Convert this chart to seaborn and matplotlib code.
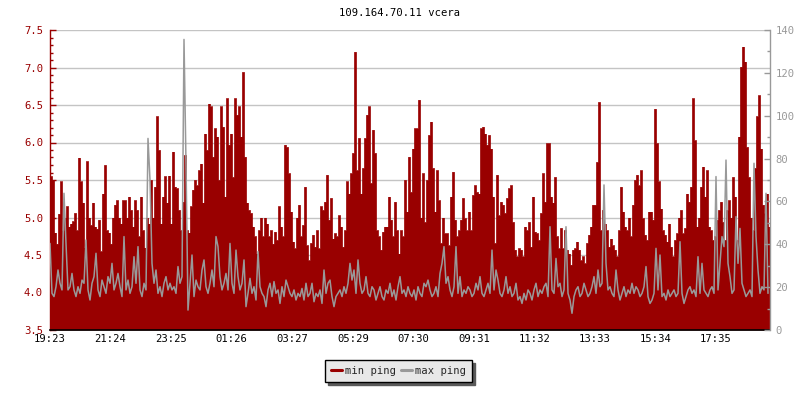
import numpy as np
import pandas as pd
import matplotlib
matplotlib.use("Agg")
import matplotlib.pyplot as plt
from matplotlib.lines import Line2D
from matplotlib.ticker import MultipleLocator, FormatStrFormatter
import seaborn as sns

# ---------------- data ----------------
title = "109.164.70.11 vcera"
start_time = "2024-01-01 19:23"
sample_minutes = 4
series_names = ["min ping", "max ping"]
tick_labels = ["19:23", "21:24", "23:25", "01:26", "03:27", "05:29",
               "07:30", "09:31", "11:32", "13:33", "15:34", "17:35"]

# min ping (left axis)
min_ping = [
    5.55, 5.50, 4.80, 4.65, 5.05, 5.48, 4.83, 5.00, 5.15, 4.88,
    4.92, 4.95, 5.06, 4.83, 5.80, 5.48, 5.20, 4.60, 5.75, 5.00,
    4.90, 5.20, 4.88, 4.85, 4.97, 4.55, 5.32, 5.70, 4.83, 4.80,
    4.65, 5.00, 5.17, 5.23, 5.00, 4.92, 5.23, 5.23, 5.00, 5.28,
    5.10, 4.88, 5.23, 5.10, 4.75, 5.28, 4.83, 4.60, 5.00, 4.92,
    5.50, 5.00, 5.41, 6.35, 5.90, 4.92, 5.28, 5.55, 5.20, 5.56,
    4.92, 5.88, 5.41, 5.39, 5.10, 4.83, 5.21, 5.83, 4.83, 4.80,
    5.15, 5.37, 5.50, 5.43, 5.63, 5.72, 5.20, 6.12, 5.90, 6.52,
    6.48, 5.81, 6.19, 6.08, 5.50, 6.48, 6.21, 5.28, 6.59, 5.97,
    6.12, 5.54, 6.59, 6.37, 6.48, 6.08, 6.94, 5.81, 5.20, 5.10,
    5.06, 4.88, 4.75, 4.52, 4.83, 5.00, 4.75, 5.00, 4.92, 4.75,
    4.83, 4.65, 4.81, 4.70, 5.15, 4.88, 4.75, 5.97, 5.94, 5.59,
    5.08, 4.68, 4.59, 5.00, 5.17, 4.75, 4.90, 5.41, 4.63, 4.43,
    4.66, 4.77, 4.61, 4.83, 4.59, 5.15, 5.10, 5.21, 5.57, 4.97,
    5.26, 4.72, 4.79, 4.75, 5.03, 4.88, 4.61, 4.83, 5.48, 5.32,
    5.59, 5.86, 7.21, 5.63, 6.06, 5.32, 5.66, 6.06, 6.37, 6.48,
    5.46, 6.17, 5.86, 4.83, 4.75, 4.57, 4.81, 4.88, 4.88, 5.28,
    4.97, 4.75, 5.21, 4.83, 4.52, 4.83, 4.75, 5.50, 5.08, 5.81,
    5.34, 5.92, 6.19, 6.19, 6.57, 5.00, 5.59, 4.94, 5.50, 6.10,
    6.28, 5.66, 5.08, 5.63, 5.23, 4.66, 5.00, 4.79, 4.79, 4.63,
    5.28, 5.61, 4.97, 4.75, 4.83, 4.97, 5.26, 4.99, 4.83, 5.08,
    4.83, 5.30, 5.43, 5.34, 5.32, 6.19, 6.21, 6.12, 5.97, 6.10,
    5.92, 5.28, 4.66, 5.57, 5.03, 5.21, 5.17, 5.06, 5.26, 5.39,
    5.43, 4.94, 4.57, 4.48, 4.59, 4.57, 4.48, 4.88, 4.83, 4.94,
    4.61, 5.28, 4.81, 4.79, 4.70, 5.06, 5.59, 5.21, 5.99, 5.99,
    5.28, 5.20, 5.54, 4.75, 4.59, 4.86, 4.59, 4.83, 4.57, 4.52,
    4.37, 4.57, 4.59, 4.68, 4.57, 4.43, 4.48, 4.39, 4.66, 4.77,
    4.88, 5.17, 5.17, 5.74, 6.54, 4.83, 5.10, 4.92, 4.83, 4.61,
    4.72, 4.63, 4.57, 4.48, 4.83, 5.41, 5.08, 4.88, 4.83, 5.00,
    4.75, 5.17, 5.50, 5.57, 5.43, 5.63, 4.99, 4.77, 4.70, 5.08,
    5.08, 4.97, 6.45, 5.99, 5.48, 5.12, 4.83, 4.77, 4.68, 4.92,
    4.61, 4.48, 4.70, 4.79, 5.00, 5.10, 4.79, 4.86, 5.32, 5.21,
    5.41, 6.59, 6.03, 4.88, 5.00, 5.41, 5.68, 5.28, 5.63, 4.88,
    4.83, 4.70, 4.75, 4.97, 5.10, 5.21, 4.94, 4.70, 5.10, 5.23,
    5.00, 5.54, 5.28, 4.70, 6.08, 7.01, 7.28, 7.08, 5.94, 5.54,
    5.00, 4.83, 5.66, 6.35, 6.63, 5.92, 5.17, 5.06, 5.32, 4.88,
]

# max ping (right axis)
max_ping = [
    40.4, 17.1, 15.6, 20.2, 28.0, 21.8, 18.7, 63.8, 40.4, 18.7,
    20.2, 26.4, 18.7, 15.6, 20.2, 17.1, 23.3, 21.8, 42.0, 18.7,
    14.0, 21.8, 24.9, 35.8, 18.7, 15.6, 23.3, 20.2, 17.1, 24.9,
    21.8, 31.1, 18.7, 21.8, 26.4, 20.2, 15.6, 43.6, 18.7, 23.3,
    17.1, 20.2, 34.2, 21.8, 38.9, 18.7, 15.6, 21.8, 18.7, 89.4,
    70.0, 31.1, 21.8, 28.0, 17.1, 20.2, 15.6, 21.8, 24.9, 18.7,
    21.8, 18.7, 20.2, 17.1, 29.6, 21.8, 24.9, 135.6, 77.8, 9.3,
    21.8, 35.0, 15.6, 23.3, 20.2, 18.7, 28.0, 32.7, 20.2, 17.1,
    21.8, 28.0, 20.2, 43.6, 38.9, 24.9, 18.7, 21.8, 26.4, 18.7,
    40.4, 21.8, 17.1, 37.3, 24.9, 18.7, 21.8, 32.7, 10.9, 17.1,
    24.1, 17.1, 20.2, 14.0, 36.6, 20.2, 17.1, 15.6, 10.9, 18.7,
    21.8, 15.6, 22.6, 17.1, 18.7, 12.4, 20.2, 15.6, 23.3, 20.2,
    17.1, 15.6, 18.7, 14.0, 17.1, 15.6, 19.4, 14.0, 21.8, 15.6,
    17.1, 21.8, 13.2, 17.1, 15.6, 18.7, 12.4, 28.0, 17.1, 21.8,
    23.3, 15.6, 10.9, 15.6, 17.1, 18.7, 15.6, 20.2, 17.1, 21.8,
    31.1, 23.3, 28.0, 17.1, 32.7, 21.8, 17.1, 18.7, 24.9, 17.1,
    15.6, 20.2, 18.7, 14.0, 17.1, 20.2, 15.6, 14.0, 18.7, 17.1,
    21.8, 15.6, 18.7, 14.0, 20.2, 24.9, 17.1, 18.7, 15.6, 20.2,
    17.1, 15.6, 18.7, 14.0, 20.2, 17.1, 15.6, 21.8, 20.2, 23.3,
    18.7, 15.6, 17.1, 20.2, 15.6, 26.4, 31.1, 38.9, 21.8, 24.9,
    18.7, 15.6, 20.2, 38.9, 17.1, 24.9, 15.6, 18.7, 17.1, 20.2,
    18.7, 15.6, 17.1, 21.8, 18.7, 24.9, 17.1, 15.6, 18.7, 21.8,
    17.1, 37.3, 18.7, 28.0, 23.3, 17.1, 15.6, 18.7, 24.9, 17.1,
    20.2, 15.6, 17.1, 21.8, 14.0, 15.6, 12.4, 17.1, 14.0, 18.7,
    17.1, 14.0, 18.7, 21.8, 15.6, 18.7, 17.1, 20.2, 21.8, 15.6,
    48.2, 18.7, 17.1, 33.4, 20.2, 21.8, 15.6, 18.7, 48.2, 17.1,
    14.0, 7.8, 15.6, 18.7, 20.2, 15.6, 17.1, 21.8, 18.7, 15.6,
    17.1, 20.2, 24.9, 17.1, 28.0, 20.2, 21.8, 67.7, 31.1, 18.7,
    20.2, 17.1, 15.6, 28.0, 18.7, 14.0, 17.1, 20.2, 15.6, 18.7,
    17.1, 21.8, 17.1, 20.2, 18.7, 15.6, 17.1, 20.2, 29.6, 15.6,
    12.4, 14.0, 17.1, 38.1, 18.7, 35.0, 15.6, 17.1, 14.0, 18.7,
    15.6, 17.1, 18.7, 15.6, 17.1, 41.2, 17.1, 12.4, 15.6, 18.7,
    20.2, 17.1, 18.7, 15.6, 34.2, 17.1, 31.1, 18.7, 17.1, 15.6,
    18.7, 20.2, 17.1, 71.6, 18.7, 31.1, 43.6, 38.9, 79.3, 31.1,
    24.9, 17.1, 18.7, 52.9, 31.1, 47.4, 21.8, 18.7, 15.6, 17.1,
    18.7, 15.6, 77.8, 43.6, 28.0, 17.1, 20.2, 18.7, 63.8, 17.1,
]

# ---------------- style ----------------
RED = "#990000"
GRAY = "#999999"
GRID = "#c4c4c4"
FS = 7.6

sns.set_style("white")
plt.rcParams["font.family"] = ["DejaVu Sans Mono", "DejaVu Sans"]
plt.rcParams["font.size"] = FS

t0 = pd.Timestamp(start_time)
times = pd.date_range(t0, periods=len(min_ping), freq=f"{sample_minutes}min")
df = pd.DataFrame({
    "minute": (times - t0).total_seconds() / 60.0,
    "min_ping": min_ping,
    "max_ping": max_ping,
})
span = 24 * 60

def label_to_minute(lbl):
    hh, mm = map(int, lbl.split(":"))
    return ((hh * 60 + mm) - (t0.hour * 60 + t0.minute)) % span

tick_pos = [label_to_minute(l) for l in tick_labels]

fig = plt.figure(figsize=(8, 4), dpi=100)
ax = fig.add_axes([50 / 800, 70 / 400, 720 / 800, 300 / 400])
ax.set_xlim(0, span)
ax.set_ylim(3.5, 7.5)

# grid behind data
ax.yaxis.set_major_locator(MultipleLocator(0.5))
ax.yaxis.set_minor_locator(MultipleLocator(0.1))
for yv in ax.get_yticks():
    if 3.5 < yv <= 7.5:
        ax.axhline(yv, color=GRID, lw=1.0, zorder=0.2)

# min ping as filled steps
xe = np.append(df["minute"].values, span)
ye = np.append(df["min_ping"].values, df["min_ping"].values[-1])
ax.fill_between(xe, ye, 3.5, step="post", color=RED, lw=0, zorder=1)
sns.lineplot(data=df, x="minute", y="min_ping", ax=ax, color=RED, lw=0.5,
             drawstyle="steps-post", legend=False, zorder=1.1)

# max ping on right axis
ax2 = ax.twinx()
ax2.set_ylim(0, 140)
sns.lineplot(data=df, x="minute", y="max_ping", ax=ax2, color=GRAY, lw=1.1,
             legend=False)
ax2.set_xlim(0, span)

for a in (ax, ax2):
    a.set_xlabel("")
    a.set_ylabel("")
    a.spines["top"].set_visible(False)
ax.spines["right"].set_visible(False)
ax2.spines["left"].set_visible(False)
ax2.spines["bottom"].set_visible(False)
ax.spines["left"].set_color(RED)
ax.spines["left"].set_linewidth(1.0)
ax.spines["bottom"].set_color("black")
ax.spines["bottom"].set_linewidth(1.2)
ax2.spines["right"].set_color(GRAY)
ax2.spines["right"].set_linewidth(1.0)

ax.yaxis.set_major_formatter(FormatStrFormatter("%.1f"))
ax.tick_params(axis="y", which="major", direction="in", length=4, width=1,
               color=RED, labelcolor=RED, labelsize=FS, pad=5)
ax.tick_params(axis="y", which="minor", direction="in", length=2.5, width=1,
               color=RED)

ax.set_xticks(tick_pos)
ax.set_xticklabels(tick_labels)
ax.tick_params(axis="x", which="major", direction="in", length=4, width=1,
               color="black", labelcolor="black", labelsize=FS, pad=3)

ax2.yaxis.set_major_locator(MultipleLocator(20))
ax2.yaxis.set_minor_locator(MultipleLocator(10))
ax2.tick_params(axis="y", which="major", direction="in", length=4, width=1,
                color=GRAY, labelcolor=GRAY, labelsize=FS, pad=4)
ax2.tick_params(axis="y", which="minor", direction="in", length=2.5, width=1,
                color=GRAY)

fig.text(0.5, 1 - 13 / 400, title, ha="center", va="center", fontsize=FS,
         color="black")

handles = [Line2D([], [], color=RED, lw=2.2), Line2D([], [], color=GRAY, lw=2.2)]
leg = fig.legend(handles, series_names, loc="center",
                 bbox_to_anchor=(398.5 / 800, 1 - 371 / 400), ncol=2,
                 frameon=True, fancybox=False,
                 shadow={"color": "#5a5a5a", "alpha": 1.0},
                 facecolor="#e8e8e8", edgecolor="black", framealpha=1,
                 fontsize=FS, handlelength=1.1, handletextpad=0.3,
                 columnspacing=0.4, borderpad=0.55, borderaxespad=0)
leg.get_frame().set_linewidth(1.0)

fig.savefig("out.png", dpi=100)
